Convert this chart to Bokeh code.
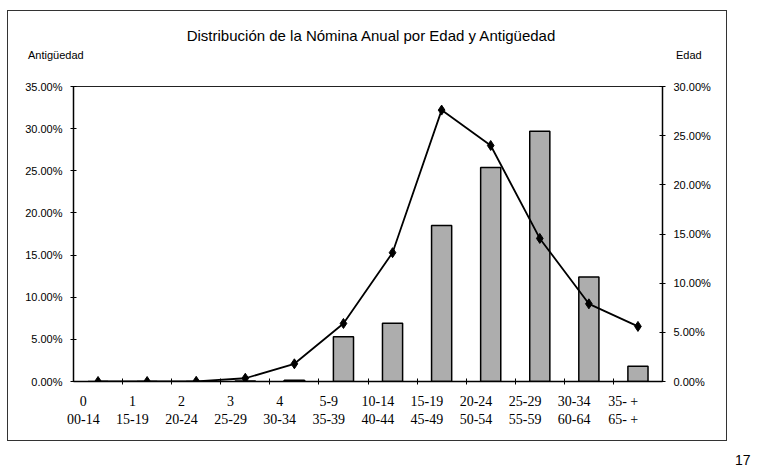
from bokeh.plotting import figure
from bokeh.models import (Range1d, LinearAxis, FixedTicker, NumeralTickFormatter,
                          ColumnDataSource, Div)
from bokeh.layouts import column
from bokeh.embed import file_html
from bokeh.resources import INLINE

# ---- data (percent) ----
antiguedad = ["0", "1", "2", "3", "4", "5-9", "10-14", "15-19", "20-24", "25-29", "30-34", "35- +"]
edad = ["00-14", "15-19", "20-24", "25-29", "30-34", "35-39", "40-44", "45-49", "50-54", "55-59", "60-64", "65- +"]
nomina_antiguedad = [0.0, 0.0, 0.0, 0.05, 0.15, 5.3, 6.9, 18.5, 25.4, 29.7, 12.4, 1.8]
nomina_edad = [0.0, 0.0, 0.02, 0.33, 1.8, 5.9, 13.1, 27.6, 24.0, 14.55, 7.9, 5.6]
left_ticks = [0, 5, 10, 15, 20, 25, 30, 35]
right_ticks = [0, 5, 10, 15, 20, 25, 30]

titulo = "Distribución de la Nómina Anual por Edad y Antigüedad"
etiqueta_izq = "Antigüedad"
etiqueta_der = "Edad"
pagina = "17"

xs = list(range(len(antiguedad)))
src = ColumnDataSource(dict(
    x=xs,
    ant=[v / 100 for v in nomina_antiguedad],
    eda=[v / 100 for v in nomina_edad],
))

W = 718
HEAD = 60
BL, BR, BT, BB = 65, 64, 15, 59
FW, FH = 589, 295

p = figure(frame_width=FW, frame_height=FH,
           x_range=Range1d(-0.5, len(xs) - 0.5),
           y_range=Range1d(0, left_ticks[-1] / 100),
           output_backend="svg", toolbar_location=None,
           min_border_left=BL, min_border_right=BR,
           min_border_top=BT, min_border_bottom=BB)
p.extra_y_ranges = {"edad": Range1d(0, right_ticks[-1] / 100)}

p.xgrid.visible = False
p.ygrid.visible = False
p.outline_line_color = "#222"
p.outline_line_width = 1

# x axis: labels slightly left of category centre, tick marks at category boundaries
lab_pos = [i - 0.3 for i in xs]
p.xaxis.ticker = FixedTicker(ticks=lab_pos, minor_ticks=[i + 0.5 for i in xs[:-1]])
p.xaxis.major_label_overrides = {pos: f"{a}\n{e}" for pos, a, e in zip(lab_pos, antiguedad, edad)}
p.xaxis.major_tick_line_color = None
p.xaxis.major_tick_in = 0
p.xaxis.major_tick_out = 0
p.xaxis.minor_tick_in = 3
p.xaxis.minor_tick_out = 3
p.xaxis.minor_tick_line_color = "black"
p.xaxis.axis_line_color = "black"
p.xaxis.axis_line_width = 1.5
p.xaxis.major_label_text_font = "Liberation Serif"
p.xaxis.major_label_text_font_size = "14px"
p.xaxis.major_label_text_color = "black"
p.xaxis.major_label_standoff = 9

# left axis
yl = p.yaxis[0]
yl.ticker = FixedTicker(ticks=[t / 100 for t in left_ticks], minor_ticks=[])
yl.formatter = NumeralTickFormatter(format="0.00%")

# right axis
yr = LinearAxis(y_range_name="edad",
                ticker=FixedTicker(ticks=[t / 100 for t in right_ticks], minor_ticks=[]),
                formatter=NumeralTickFormatter(format="0.00%"))
p.add_layout(yr, "right")

for ax in (yl, yr):
    ax.axis_line_color = "black"
    ax.axis_line_width = 1.5
    ax.major_tick_in = 3
    ax.major_tick_out = 3
    ax.major_tick_line_color = "black"
    ax.minor_tick_line_color = None
    ax.major_label_text_font = "Liberation Sans"
    ax.major_label_text_font_size = "11px"
    ax.major_label_text_color = "black"
    ax.major_label_standoff = 8

# bars: antigüedad (left axis)
p.vbar(x="x", top="ant", width=0.41, source=src,
       fill_color="#adadad", line_color="black", line_width=1.5)

# line: edad (right axis)
p.line(x="x", y="eda", source=src, y_range_name="edad",
       line_color="black", line_width=1.8)
p.scatter(x="x", y="eda", source=src, y_range_name="edad",
          marker="diamond", size=10, fill_color="black", line_color="black")

font = "font-family:'Liberation Sans',Arial,sans-serif;color:black;white-space:nowrap;"
head_html = (
    f'<div style="position:relative;width:{W}px;height:{HEAD}px;margin:0;padding:0;overflow:visible;">'
    f'<div style="position:absolute;left:0;top:16px;width:726px;text-align:center;'
    f'font-size:15px;line-height:18px;{font}">{titulo}</div>'
    f'<div style="position:absolute;left:20px;top:37px;font-size:11px;line-height:14px;{font}">{etiqueta_izq}</div>'
    f'<div style="position:absolute;left:668px;top:37px;font-size:11px;line-height:14px;{font}">{etiqueta_der}</div>'
    f'<div style="position:absolute;left:727px;top:441px;font-size:14px;line-height:16px;{font}">{pagina}</div>'
    '</div>'
)
head = Div(text=head_html, width=W, height=HEAD, margin=0, styles={"overflow": "visible"})

layout = column(head, p, spacing=0, margin=(10, 0, 0, 7),
                styles={"border": "1px solid #333"})

open("out.html", "w").write(file_html(layout, INLINE))
